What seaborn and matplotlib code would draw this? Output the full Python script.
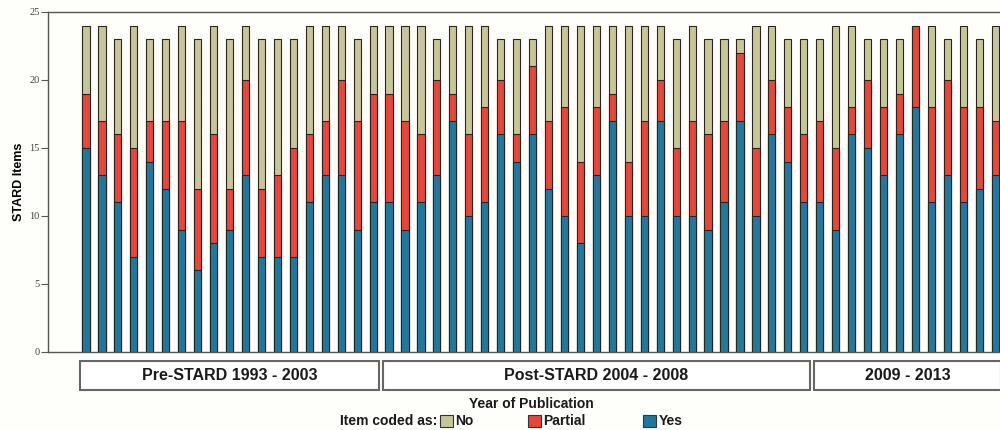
"""Stacked STARD item scores per study, grouped by publication period."""

import matplotlib

matplotlib.use("Agg")

import matplotlib.pyplot as plt
import matplotlib.transforms as mtransforms
import pandas as pd
import seaborn as sns
from matplotlib.patches import Rectangle

# items coded "Yes", "Partial", "No" per study
YES = [
    15, 13, 11, 7, 14, 12, 9, 6, 8, 9, 13, 7, 7, 7, 11, 13, 13, 9, 11,
    11, 9, 11, 13, 17, 10, 11, 16, 14, 16, 12, 10, 8, 13, 17, 10, 10, 17,
    10, 10, 9, 11, 17, 10, 16, 14, 11,
    11, 9, 16, 15, 13, 16, 18, 11, 13, 11, 12, 13,
]
PARTIAL = [
    4, 4, 5, 8, 3, 5, 8, 6, 8, 3, 7, 5, 6, 8, 5, 4, 7, 8, 8,
    8, 8, 5, 7, 2, 6, 7, 4, 2, 5, 5, 8, 6, 5, 2, 4, 7, 3,
    5, 7, 7, 6, 5, 5, 4, 4, 5,
    6, 6, 2, 5, 5, 3, 6, 7, 7, 7, 6, 4,
]
NO = [
    5, 7, 7, 9, 6, 6, 7, 11, 8, 11, 4, 11, 10, 8, 8, 7, 4, 6, 5,
    5, 7, 8, 3, 5, 8, 6, 3, 7, 2, 7, 6, 10, 6, 5, 10, 7, 4,
    8, 7, 7, 6, 1, 9, 4, 5, 7,
    6, 9, 6, 3, 5, 4, 0, 6, 3, 6, 5, 7,
]
PERIODS = ["Pre-STARD 1993 - 2003", "Post-STARD 2004 - 2008", "2009 - 2013"]
PERIOD_SIZES = [19, 27, 12]

CODES = ["No", "Partial", "Yes"]
COLORS = {"No": "#c9c59a", "Partial": "#e8453b", "Yes": "#21789f"}
BG = "#fefefb"

df = pd.DataFrame({"yes": YES, "partial": PARTIAL, "no": NO})
df["study"] = [f"s{i:02d}" for i in range(len(df))]
df["yes_partial"] = df["yes"] + df["partial"]
df["total"] = df["yes_partial"] + df["no"]

fig = plt.figure(figsize=(10, 4.3), dpi=100, facecolor=BG)
ax = fig.add_axes([0.048, 0.1814, 0.952, 0.7907], facecolor=BG)

bar_kw = dict(x="study", ax=ax, width=0.45, edgecolor="#26261f",
              linewidth=0.8, errorbar=None, order=list(df["study"]))
sns.barplot(data=df, y="total", color=COLORS["No"], saturation=1, **bar_kw)
sns.barplot(data=df, y="yes_partial", color=COLORS["Partial"], saturation=1, **bar_kw)
sns.barplot(data=df, y="yes", color=COLORS["Yes"], saturation=1, **bar_kw)

ax.set_ylim(0, 25)
ax.set_yticks(range(0, 26, 5))
ax.set_xlim(-2.38, 57.3)
ax.set_xticks([])
ax.set_xlabel("")
ax.set_ylabel("STARD Items", fontsize=9, fontweight="bold",
              family="Liberation Sans", labelpad=3)
for lbl in ax.get_yticklabels():
    lbl.set_family("Liberation Serif")
    lbl.set_fontsize(7.5)
    lbl.set_color("#444444")
ax.tick_params(axis="y", length=5, width=0.8, color="#555555", pad=1)

for side in ["left", "bottom", "top"]:
    ax.spines[side].set_color("#555555")
    ax.spines[side].set_linewidth(1.0)
ax.spines["right"].set_visible(False)

# period strips below the axis
trans = mtransforms.blended_transform_factory(ax.transData, ax.transAxes)
start = 0
for name, size in zip(PERIODS, PERIOD_SIZES):
    x0 = start - 0.5 + 0.13
    x1 = start + size - 1 + 0.5 - 0.13
    ax.add_patch(Rectangle((x0, -0.112), x1 - x0, 0.0855, transform=trans,
                           facecolor="white", edgecolor="#666666",
                           linewidth=1.5, clip_on=False))
    ax.text((x0 + x1) / 2, -0.069, name, transform=trans, ha="center",
            va="center", fontsize=11.5, fontweight="bold",
            family="Liberation Sans", color="#1a1a1a")
    start += size

fig.text(0.531, 0.0605, "Year of Publication", ha="center", va="center",
         fontsize=10, fontweight="bold", family="Liberation Sans",
         color="#1a1a1a")

# legend row
fig.text(0.437, 0.021, "Item coded as:", ha="right", va="center",
         fontsize=10, fontweight="bold", family="Liberation Sans",
         color="#1a1a1a")
swatch_x = [0.440, 0.528, 0.643]
for code, sx in zip(CODES, swatch_x):
    fig.patches.append(Rectangle((sx, 0.006), 0.0125, 0.03,
                                 transform=fig.transFigure,
                                 facecolor=COLORS[code], edgecolor="#333333",
                                 linewidth=0.8))
    fig.text(sx + 0.0155, 0.021, code, ha="left", va="center", fontsize=10,
             fontweight="bold", family="Liberation Sans", color="#1a1a1a")

fig.savefig("out.png", dpi=100, facecolor=BG)
plt.close(fig)
